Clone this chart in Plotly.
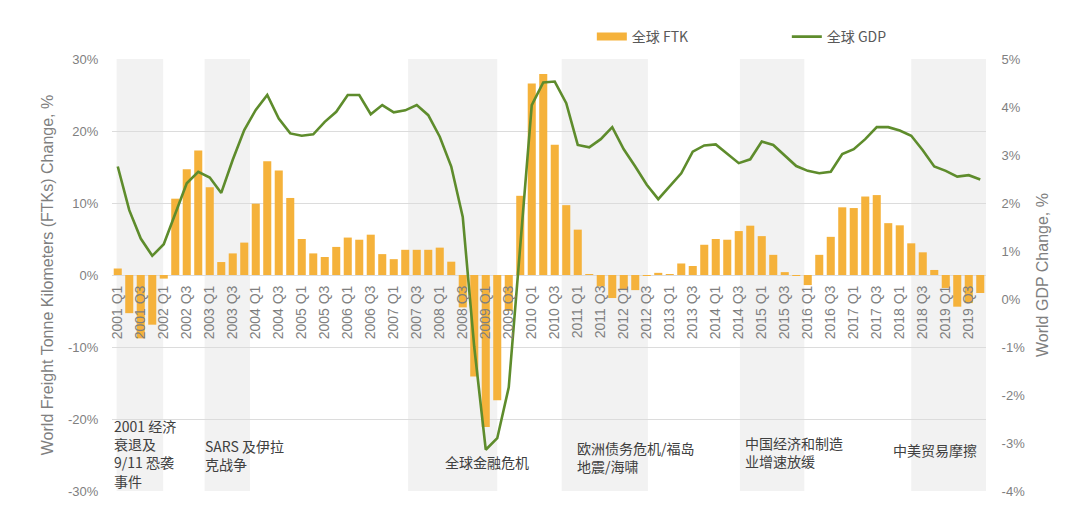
import plotly.graph_objects as go

quarters = [
    "2001 Q1", "2001 Q2", "2001 Q3", "2001 Q4",
    "2002 Q1", "2002 Q2", "2002 Q3", "2002 Q4",
    "2003 Q1", "2003 Q2", "2003 Q3", "2003 Q4",
    "2004 Q1", "2004 Q2", "2004 Q3", "2004 Q4",
    "2005 Q1", "2005 Q2", "2005 Q3", "2005 Q4",
    "2006 Q1", "2006 Q2", "2006 Q3", "2006 Q4",
    "2007 Q1", "2007 Q2", "2007 Q3", "2007 Q4",
    "2008 Q1", "2008 Q2", "2008 Q3", "2008 Q4",
    "2009 Q1", "2009 Q2", "2009 Q3", "2009 Q4",
    "2010 Q1", "2010 Q2", "2010 Q3", "2010 Q4",
    "2011 Q1", "2011 Q2", "2011 Q3", "2011 Q4",
    "2012 Q1", "2012 Q2", "2012 Q3", "2012 Q4",
    "2013 Q1", "2013 Q2", "2013 Q3", "2013 Q4",
    "2014 Q1", "2014 Q2", "2014 Q3", "2014 Q4",
    "2015 Q1", "2015 Q2", "2015 Q3", "2015 Q4",
    "2016 Q1", "2016 Q2", "2016 Q3", "2016 Q4",
    "2017 Q1", "2017 Q2", "2017 Q3", "2017 Q4",
    "2018 Q1", "2018 Q2", "2018 Q3", "2018 Q4",
    "2019 Q1", "2019 Q2", "2019 Q3", "2019 Q4",
]

# World FTK change, % (left axis)
ftk = [
    0.9, -5.3, -8.8, -6.9,
    -0.5, 10.6, 14.7, 17.3,
    12.2, 1.8, 3.0, 4.5,
    9.9, 15.8, 14.5, 10.7,
    5.0, 3.0, 2.5, 3.9,
    5.2, 4.9, 5.6, 2.9,
    2.2, 3.5, 3.5, 3.5,
    3.8, 1.85, -4.5, -14.1,
    -21.1, -17.4, -5.0, 11.0,
    26.6, 27.9, 18.1, 9.7,
    6.3, 0.1, -1.6, -3.2,
    -2.1, -2.1, -0.1, 0.3,
    0.05, 1.6, 1.25, 4.2,
    5.0, 4.9, 6.1, 6.85,
    5.4, 2.8, 0.4, -0.1,
    -1.4, 2.8, 5.3, 9.4,
    9.3, 10.9, 11.1, 7.2,
    6.9, 4.4, 3.15, 0.7,
    -1.8, -4.4, -3.9, -2.5,
]

# World GDP change, % (right axis)
gdp = [
    2.76, 1.85, 1.26, 0.90,
    1.14, 1.79, 2.41, 2.65,
    2.53, 2.21, 2.90, 3.52,
    3.94, 4.25, 3.76, 3.45,
    3.40, 3.43, 3.69, 3.90,
    4.25, 4.25, 3.85, 4.04,
    3.89, 3.93, 4.04, 3.83,
    3.38, 2.76, 1.71, -1.00,
    -3.14, -2.90, -1.84, 1.10,
    4.04, 4.51, 4.53, 4.08,
    3.21, 3.16, 3.33, 3.58,
    3.12, 2.76, 2.38, 2.08,
    2.34, 2.62, 3.07, 3.20,
    3.22, 3.03, 2.83, 2.91,
    3.28, 3.21, 2.98, 2.77,
    2.67, 2.62, 2.65, 3.02,
    3.12, 3.33, 3.58, 3.58,
    3.51, 3.40, 3.10, 2.76,
    2.67, 2.55, 2.58, 2.49,
]

left_ticks = [-30, -20, -10, 0, 10, 20, 30]
left_labels = ["-30%", "-20%", "-10%", "0%", "10%", "20%", "30%"]
right_ticks = [-4, -3, -2, -1, 0, 1, 2, 3, 4, 5]
right_labels = ["-4%", "-3%", "-2%", "-1%", "0%", "1%", "2%", "3%", "4%", "5%"]

# shaded event periods (in quarter-index units)
shade_ranges = [(-0.1, 3.95), (7.55, 11.5), (25.25, 33.0), (38.6, 46.1), (54.1, 59.7), (69.0, 75.5)]

events = [
    ("2001 经济<br>衰退及<br>9/11 恐袭<br>事件", -0.5, 453),
    ("SARS 及伊拉<br>克战争", 7.4, 455),
    ("全球金融危机", 28.3, 462),
    ("欧洲债务危机/福岛<br>地震/海啸", 39.8, 457),
    ("中国经济和制造<br>业增速放缓", 54.4, 452),
    ("中美贸易摩擦", 67.2, 450),
]

FONT = '"Liberation Sans", Arial, "Noto Sans CJK SC", sans-serif'
CJK = '"Noto Sans CJK SC", "Liberation Sans", sans-serif'
GREY = "#7f7f7f"
ORANGE = "#F5B23B"
GREEN = "#5E8C2C"

idx = list(range(len(quarters)))

fig = go.Figure()
fig.add_trace(go.Bar(
    x=idx, y=ftk, name="全球 FTK", marker=dict(color=ORANGE, line=dict(width=0)),
    yaxis="y", showlegend=False,
))
# legend key for the bars (wide flat swatch as in the original)
fig.add_trace(go.Scatter(
    x=[None], y=[None], name="全球 FTK", mode="lines",
    line=dict(color=ORANGE, width=8), yaxis="y",
))
fig.add_trace(go.Scatter(
    x=idx, y=gdp, name="全球 GDP", mode="lines",
    line=dict(color=GREEN, width=2.6), yaxis="y2",
))

shapes = []
for a, b in shade_ranges:
    shapes.append(dict(type="rect", xref="x", yref="paper", x0=a, x1=b, y0=0, y1=1,
                       fillcolor="#F2F2F2", line=dict(width=0), layer="below"))

W, H = 1080, 526
mt, mb = 59, 35
ph = H - mt - mb

annotations = []
for text, xi, ypx in events:
    annotations.append(dict(
        text=text, x=xi, xref="x", y=1 - (ypx - mt) / ph, yref="paper",
        xanchor="left", yanchor="middle", align="left", showarrow=False,
        font=dict(family=CJK, size=14, color="#404040"),
    ))

fig.update_layout(
    width=W, height=H,
    margin=dict(l=112, r=94, t=mt, b=mb),
    paper_bgcolor="white", plot_bgcolor="white",
    font=dict(family=FONT, color=GREY, size=13),
    bargap=0.3,
    showlegend=True,
    legend=dict(orientation="h", x=0.549, y=1 + (mt - 37) / ph, xanchor="left", yanchor="middle",
                font=dict(family=CJK, size=14, color="#595959"),
                entrywidth=150, bgcolor="rgba(0,0,0,0)", itemwidth=30),
    shapes=shapes,
    annotations=annotations,
    xaxis=dict(
        range=[-0.5, 75.5], tickvals=idx[::2], ticktext=quarters[::2], tickangle=-90,
        anchor="free", position=0.5, showgrid=False, zeroline=False, showline=False,
        ticks="outside", ticklen=4, tickcolor="rgba(0,0,0,0)",
        tickfont=dict(size=14, color=GREY, family=FONT),
    ),
    yaxis=dict(
        range=[-30, 30], tickvals=left_ticks, ticktext=left_labels,
        showgrid=True, gridcolor="#DCDCDC", gridwidth=1, zeroline=False, showline=False,
        ticks="outside", ticklen=10, tickcolor="rgba(0,0,0,0)",
        tickfont=dict(size=13, color=GREY),
        title=dict(text="World Freight Tonne Kilometers (FTKs) Change, %",
                   font=dict(size=16, color=GREY), standoff=10),
    ),
    yaxis2=dict(
        range=[-4, 5], tickvals=right_ticks, ticktext=right_labels,
        overlaying="y", side="right", showgrid=False, zeroline=False, showline=False,
        ticks="outside", ticklen=12, tickcolor="rgba(0,0,0,0)",
        tickfont=dict(size=13, color=GREY),
        title=dict(text="World GDP Change, %", font=dict(size=16, color=GREY), standoff=12),
    ),
)

fig.write_html("out.html")
